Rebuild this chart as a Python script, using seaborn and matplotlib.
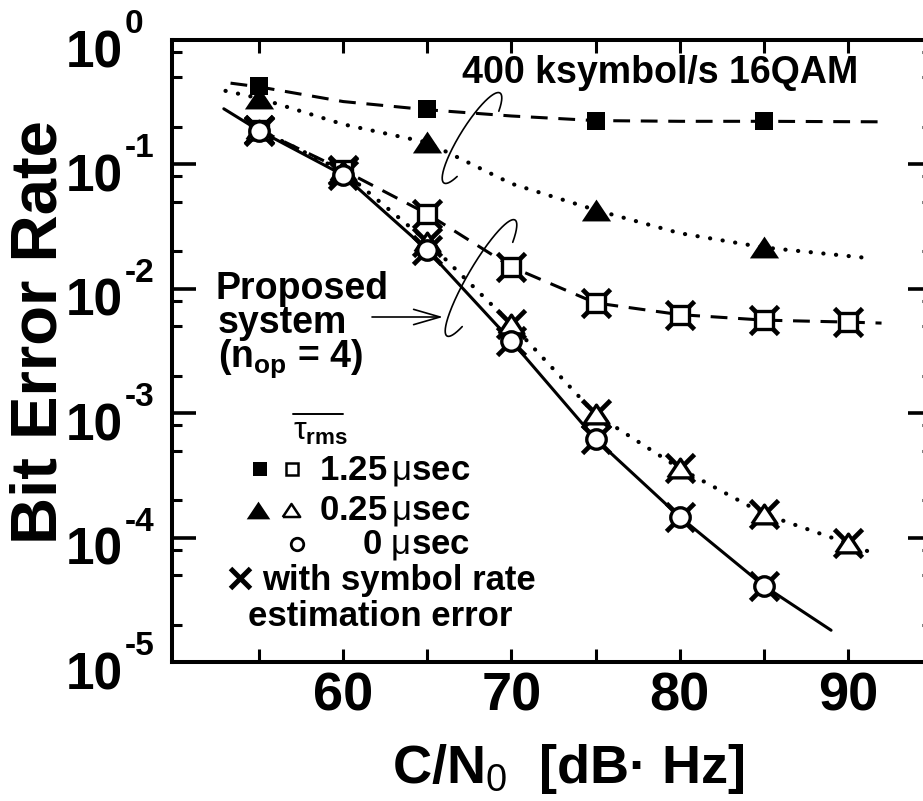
import numpy as np
import matplotlib
matplotlib.use("Agg")
import matplotlib.pyplot as plt
import matplotlib.transforms as mtransforms
from matplotlib.lines import Line2D
from matplotlib.patches import FancyArrowPatch
from matplotlib.ticker import LogLocator, NullFormatter
import seaborn as sns

# ---------------- data ----------------
# conventional 400 ksymbol/s 16QAM (filled markers)
cn0_conv = [55, 65, 75, 85]
ber_conv_125 = [0.43, 0.28, 0.225, 0.225]
ber_conv_025 = [0.34, 0.152, 0.043, 0.0215]

# proposed system, n_op = 4 (open markers, x = with symbol rate estimation error)
cn0_prop = [55, 60, 65, 70, 75, 80, 85, 90]
ber_prop_125 = [0.19, 0.09, 0.040, 0.0150, 0.0077, 0.0062, 0.0056, 0.0054]
ber_prop_025 = [0.19, 0.088, 0.024, 0.0052, 0.00098, 0.00036, 0.000155, 0.00009]
cn0_prop_0 = [55, 60, 65, 70, 75, 80, 85]
ber_prop_0 = [0.187, 0.082, 0.0205, 0.0038, 0.00062, 0.000147, 0.000041]

# fitted curves through the measurements
fit_conv_125_x = [53.3, 55, 60, 65, 70, 75, 80, 85, 91.8]
fit_conv_125_y = [0.45, 0.42, 0.32, 0.275, 0.245, 0.225, 0.222, 0.222, 0.22]
fit_conv_025_x = [53, 55, 60, 65, 70, 75, 80, 85, 91.5]
fit_conv_025_y = [0.39, 0.34, 0.21, 0.15, 0.07, 0.043, 0.028, 0.0215, 0.0175]
fit_prop_125_x = [55, 60, 65, 70, 75, 80, 85, 90, 92]
fit_prop_125_y = [0.19, 0.09, 0.040, 0.0150, 0.0077, 0.0062, 0.0056, 0.0054, 0.0053]
fit_prop_025_x = [55, 60, 65, 70, 75, 80, 85, 90, 91.8]
fit_prop_025_y = [0.19, 0.088, 0.024, 0.0052, 0.00098, 0.00036, 0.000155, 0.00009, 0.000072]
fit_prop_0_x = [52.9, 55, 60, 65, 70, 75, 80, 85, 89]
fit_prop_0_y = [0.28, 0.187, 0.082, 0.0205, 0.0038, 0.00062, 0.000147, 0.000041, 0.000018]

x_major = [60, 70, 80, 90]
x_minor = [55, 65, 75, 85]
y_exponents = [-5, -4, -3, -2, -1, 0]

# ---------------- style ----------------
sns.set_theme(style="ticks")
plt.rcParams["font.family"] = ["Liberation Sans", "DejaVu Sans"]
plt.rcParams["text.color"] = "black"
plt.rcParams["mathtext.fontset"] = "custom"
plt.rcParams["mathtext.rm"] = "Liberation Sans"
plt.rcParams["mathtext.it"] = "Liberation Sans"
plt.rcParams["mathtext.bf"] = "Liberation Sans:bold"
NARROW = ["Liberation Sans Narrow", "Liberation Sans", "DejaVu Sans"]
SANS = ["Liberation Sans", "DejaVu Sans"]

W, H = 923, 801
fig = plt.figure(figsize=(W / 100, H / 100), dpi=100)
fig.patch.set_facecolor("white")


def fx(px):
    return px / W


def fy(py):
    return 1 - py / H


ax = fig.add_axes([fx(172), fy(662), (932 - 172) / W, (662 - 40) / H])
ax.set_facecolor("white")
ax.set_yscale("log")
ax.set_xlim(49.82, 95)
ax.set_ylim(1e-5, 1)

TRI = [(-1, -0.75), (1, -0.75), (0, 0.75), (-1, -0.75)]

dashed = dict(linewidth=2.2, linestyle=(0, (5.5, 3.5)))
dotted = dict(linewidth=3.0, linestyle=(0, (0.05, 3.0)), dash_capstyle="round")
solid = dict(linewidth=2.2, linestyle="-")


def curve(x, y, style):
    sns.lineplot(x=x, y=y, ax=ax, color="black", zorder=2, **style)


def points(x, y, marker, ms, fc, mew=0.0, z=4):
    sns.lineplot(x=x, y=y, ax=ax, color="black", linestyle="none",
                 marker=marker, markersize=ms, markerfacecolor=fc,
                 markeredgecolor="black", markeredgewidth=mew, zorder=z)


curve(fit_conv_125_x, fit_conv_125_y, dashed)
curve(fit_conv_025_x, fit_conv_025_y, dotted)
curve(fit_prop_125_x, fit_prop_125_y, dashed)
curve(fit_prop_025_x, fit_prop_025_y, dotted)
curve(fit_prop_0_x, fit_prop_0_y, solid)

# symbol rate estimation error markers sit behind the open markers
points(cn0_prop, ber_prop_125, "x", 20, "black", mew=3.4, z=3)
points(cn0_prop, ber_prop_025, "x", 20, "black", mew=3.4, z=3)
points(cn0_prop_0, ber_prop_0, "x", 20, "black", mew=3.4, z=3)

points(cn0_prop, ber_prop_125, "s", 12.5, "white", mew=2.4)
points(cn0_prop, ber_prop_025, TRI, 18, "white", mew=2.4)
points(cn0_prop_0, ber_prop_0, "o", 14, "white", mew=2.4, z=5)

points(cn0_conv, ber_conv_125, "s", 13.5, "black")
points(cn0_conv, ber_conv_025, TRI, 21, "black")

# ---------------- axes ----------------
ax.set_xticks(x_major, labels=[str(v) for v in x_major], fontsize=39,
              fontweight="bold", fontfamily=NARROW)
ax.set_xticks(x_minor, minor=True)
ax.set_yticks([10.0 ** e for e in y_exponents], labels=[""] * len(y_exponents))
ax.yaxis.set_minor_locator(LogLocator(base=10, subs=(2, 5, 8)))
ax.yaxis.set_minor_formatter(NullFormatter())

# decade labels: "10" with a raised exponent
ytrans = ax.get_yaxis_transform()
for e in y_exponents:
    base_t = mtransforms.offset_copy(ytrans, fig=fig, x=0, y=-27, units="dots")
    sup_t = mtransforms.offset_copy(ytrans, fig=fig, x=0, y=7, units="dots")
    ax.text(-49 / 760, 10.0 ** e, "10", transform=base_t, ha="right",
            va="baseline", fontsize=37, fontweight="bold", fontfamily=NARROW,
            color="black", clip_on=False)
    ax.text(-47 / 760, 10.0 ** e, "-%d" % abs(e) if e < 0 else "0",
            transform=sup_t, ha="left", va="baseline", fontsize=24,
            fontweight="bold", fontfamily=NARROW, color="black", clip_on=False)

ax.tick_params(axis="both", which="both", direction="in", top=True, right=True,
               color="black", labelcolor="black")
ax.tick_params(axis="y", which="major", length=17, width=2.6, pad=12)
ax.tick_params(axis="y", which="minor", length=7, width=2.2)
ax.tick_params(axis="x", which="both", length=9.5, width=2.2, pad=7)
for s in ax.spines.values():
    s.set_linewidth(2.9)
    s.set_color("black")

ax.set_xlabel("C/N$_{0}$  [dB\u00b7 Hz]", fontsize=39, fontweight="bold",
              fontfamily=NARROW, color="black")
ax.xaxis.set_label_coords(0.522, -0.128)
ax.set_ylabel("Bit Error Rate", fontsize=47, fontweight="bold",
              fontfamily=SANS, color="black")
ax.yaxis.set_label_coords(-0.1355, 0.53)

# ---------------- annotations ----------------
TXT = dict(fontweight="bold", color="black", fontfamily=SANS)

fig.text(fx(462), fy(83), "400 ksymbol/s 16QAM", fontsize=27, ha="left",
         va="baseline", **TXT)
fig.text(fx(216), fy(299), "Proposed", fontsize=27, ha="left", va="baseline", **TXT)
fig.text(fx(218), fy(333), "system", fontsize=27, ha="left", va="baseline", **TXT)
fig.text(fx(218), fy(367), r"(n$_\mathbf{op}$ = 4)", fontsize=27, ha="left",
         va="baseline", **TXT)


def loop(c, top, b, t0=0.8, t1=-np.pi - 0.7):
    cx, cy = c
    ux, uy = top[0] - cx, top[1] - cy
    a = np.hypot(ux, uy)
    ux, uy = ux / a, uy / a
    vx, vy = -uy, ux
    t = np.linspace(t0, t1, 300)
    px = cx + a * np.cos(t) * ux + b * np.sin(t) * vx
    py = cy + a * np.cos(t) * uy + b * np.sin(t) * vy
    fig.add_artist(Line2D(fx(px), fy(py), transform=fig.transFigure,
                          color="black", lw=1.2))


loop((472, 138), (500, 93), 12)
loop((481, 278), (515, 220), 13)

fig.add_artist(FancyArrowPatch((fx(372), fy(317)), (fx(443), fy(317)),
                               transform=fig.transFigure,
                               arrowstyle="->,head_length=1.9,head_width=0.55",
                               mutation_scale=10, lw=1.2, color="black",
                               shrinkA=0, shrinkB=0))

# ---------------- key ----------------
fig.text(fx(293), fy(440), r"$\tau_{\mathbf{rms}}$", fontsize=23, ha="left",
         va="baseline", **TXT)
fig.add_artist(Line2D([fx(293), fx(343)], [fy(414), fy(414)],
                      transform=fig.transFigure, color="black", lw=1.4))


def key_marker(x, y, marker, ms, fc, mew=0.0):
    fig.add_artist(Line2D([fx(x)], [fy(y)], transform=fig.transFigure,
                          linestyle="none", marker=marker, markersize=ms,
                          markerfacecolor=fc, markeredgecolor="black",
                          markeredgewidth=mew))


key_marker(260, 469, "s", 10, "black")
key_marker(292, 469, "s", 8, "white", mew=1.8)
key_marker(258, 510, TRI, 17, "black")
key_marker(291, 510, TRI, 12.5, "white", mew=1.8)
key_marker(297, 544, "o", 9, "white", mew=2.0)
key_marker(240, 578, "x", 14, "black", mew=3.6)

fig.text(fx(470), fy(479), r"1.25$\,\mu$sec", fontsize=25, ha="right",
         va="baseline", **TXT)
fig.text(fx(470), fy(520), r"0.25$\,\mu$sec", fontsize=25, ha="right",
         va="baseline", **TXT)
fig.text(fx(470), fy(553), r"0 $\mu$sec", fontsize=25, ha="right",
         va="baseline", **TXT)
fig.text(fx(262), fy(590), "with symbol rate", fontsize=25, ha="left",
         va="baseline", **TXT)
fig.text(fx(248), fy(626), "estimation error", fontsize=25, ha="left",
         va="baseline", **TXT)

fig.savefig("out.png", dpi=100, facecolor="white")
